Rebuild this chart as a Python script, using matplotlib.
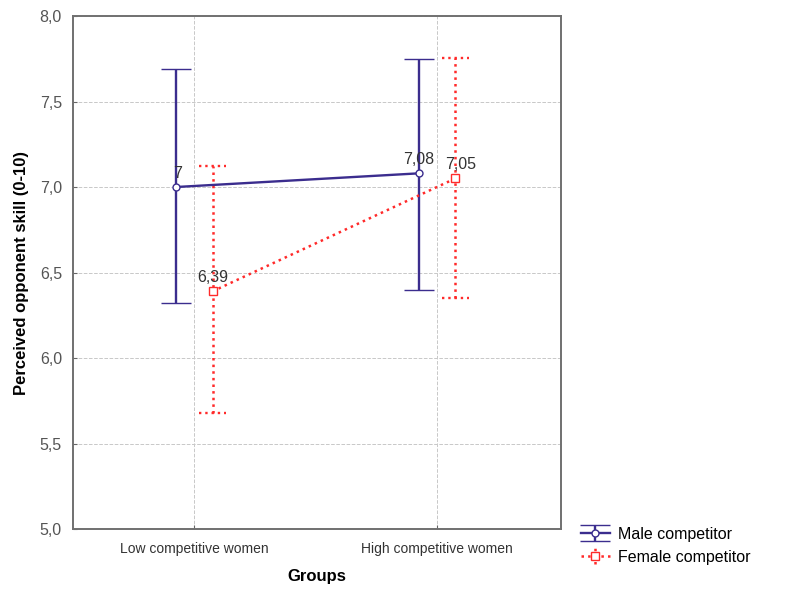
import matplotlib.pyplot as plt
import numpy as np

plt.rcParams['font.family'] = ['Liberation Sans', 'DejaVu Sans']

groups = ['Low competitive women', 'High competitive women']
male_mean = [7.0, 7.08]
male_low = [6.32, 6.40]
male_high = [7.69, 7.75]
female_mean = [6.39, 7.05]
female_low = [5.68, 6.35]
female_high = [7.12, 7.755]
male_labels = ['7', '7,08']
female_labels = ['6,39', '7,05']

male_col = '#3b2d8e'
female_col = '#ff2a2a'

fig = plt.figure(figsize=(7.96, 5.91), dpi=100)
ax = fig.add_axes([0.0917, 0.1049, 0.613, 0.868])

x = np.arange(len(groups))
off = 0.075

xm = x - off
xf = x + off
m_err = [np.array(male_mean) - np.array(male_low), np.array(male_high) - np.array(male_mean)]
f_err = [np.array(female_mean) - np.array(female_low), np.array(female_high) - np.array(female_mean)]

hm = ax.errorbar(xm, male_mean, yerr=m_err, color=male_col, lw=1.7, capsize=11, capthick=1.7,
                 marker='o', ms=5, mfc='white', mec=male_col, mew=1.0, zorder=3,
                 label='Male competitor')
hf = ax.errorbar(xf, female_mean, yerr=f_err, color=female_col, lw=1.8, ls=':', capsize=11,
                 capthick=1.8, marker='s', ms=6, mfc='white', mec=female_col, mew=1.0, zorder=3,
                 label='Female competitor')
hf[2][0].set_linestyle(':')
# dotted caps drawn as hlines
for c in hf[1]:
    c.set_visible(False)
cw = 0.055
ax.hlines(female_high, xf - cw, xf + cw, colors=female_col, linestyles=':', lw=1.7, zorder=3)
ax.hlines(female_low, xf - cw, xf + cw, colors=female_col, linestyles=':', lw=1.7, zorder=3)

for xi, yi, t in zip(xm, male_mean, male_labels):
    ax.text(xi + (-0.012 if t == '7' else 0.0), yi + 0.035, t, ha='left' if t == '7' else 'center',
            va='bottom', fontsize=11.5, color='#333333')
for xi, yi, t in zip(xf, female_mean, female_labels):
    ax.text(xi + (0.0 if t == '6,39' else 0.02), yi + 0.035, t, ha='center', va='bottom',
            fontsize=11.5, color='#333333')

ax.set_xlim(-0.5, 1.51)
ax.set_ylim(5.0, 8.0)
ax.set_xticks(x)
ax.set_xticklabels(groups, fontsize=10, color='#333333')
yt = np.arange(5.0, 8.01, 0.5)
ax.set_yticks(yt)
ax.set_yticklabels([f'{v:.1f}'.replace('.', ',') for v in yt], fontsize=11.5, color='#555555')
ax.grid(True, ls='--', lw=0.7, color='#c8c8c8')
ax.set_axisbelow(True)
ax.tick_params(axis='x', length=3, direction='in', color='#666666', pad=9)
ax.tick_params(axis='y', length=3, direction='in', color='#666666', pad=8)
for s in ax.spines.values():
    s.set_color('#707070')
    s.set_linewidth(1.4)

ax.set_xlabel('Groups', fontsize=12, fontweight='bold', labelpad=10)
ax.set_ylabel('Perceived opponent skill (0-10)', fontsize=12, fontweight='bold', labelpad=8)

fig.legend(handles=[hm, hf], labels=['Male competitor', 'Female competitor'],
           loc='lower left', bbox_to_anchor=(0.716, 0.025), frameon=False, fontsize=11.5,
           handlelength=1.8, handletextpad=0.5, labelspacing=0.5, borderpad=0.2)

fig.savefig('out.png', dpi=100)
